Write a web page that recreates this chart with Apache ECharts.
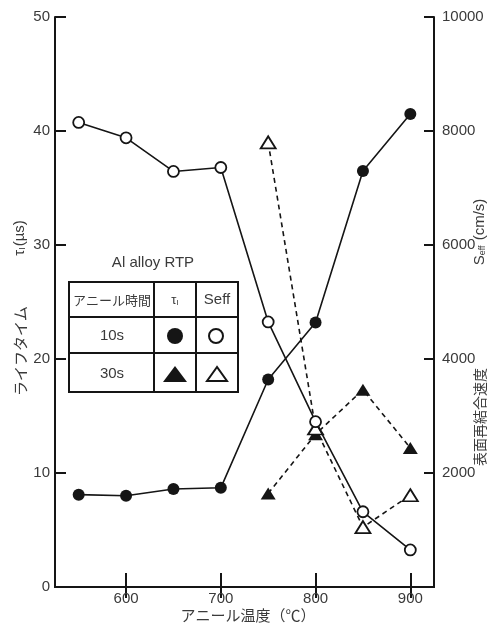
<!DOCTYPE html>
<html><head><meta charset="utf-8">
<script src="https://cdn.jsdelivr.net/npm/echarts@6/dist/echarts.min.js"></script>
<style>html,body{margin:0;padding:0;background:#fff}#c{width:501px;height:628px}</style>
</head><body><div id="c"></div>
<script>
// ---- data ----
const temps10 = [550, 600, 650, 700, 750, 800, 850, 900];
const tau10 = [8.1, 8.0, 8.6, 8.7, 18.2, 23.2, 36.5, 41.5];
const seff10 = [8150, 7880, 7290, 7360, 4650, 2900, 1320, 650];
const temps30 = [750, 800, 850, 900];
const tau30 = [8.2, 13.4, 17.3, 12.2];
const seff30 = [7800, 2780, 1050, 1610];
const xTicks = [600, 700, 800, 900];
const leftTicks = [0, 10, 20, 30, 40, 50];
const rightTicks = [0, 2000, 4000, 6000, 8000, 10000];

const INK = '#151515';
const TXT = '#3a3a3a';
const NUMFONT = '"Liberation Sans", Arial, sans-serif';
const JPFONT = '"Noto Sans CJK JP", sans-serif';

function pairs(xs, ys) { return xs.map((x, i) => [x, ys[i]]); }

const axisLineStyle = { color: INK, width: 2 };
const chart = echarts.init(document.getElementById('c'), null, { renderer: 'canvas' });

const option = {
  animation: false,
  backgroundColor: '#fff',
  grid: { left: 55, right: 67, top: 17, bottom: 41 },
  xAxis: [
    {
      type: 'value', min: 525, max: 925, position: 'bottom',
      axisLine: { lineStyle: axisLineStyle },
      axisTick: { inside: true, length: 14, customValues: xTicks, lineStyle: { color: INK, width: 2 } },
      axisLabel: { customValues: xTicks, fontSize: 15, color: TXT, fontFamily: NUMFONT, margin: 4 },
      splitLine: { show: false }
    },
    {
      type: 'value', min: 525, max: 925, position: 'top',
      axisLine: { lineStyle: axisLineStyle },
      axisTick: { inside: true, length: 11, customValues: xTicks, lineStyle: { color: INK, width: 2 } },
      axisLabel: { show: false },
      splitLine: { show: false }
    }
  ],
  yAxis: [
    {
      type: 'value', min: leftTicks[0], max: leftTicks[leftTicks.length - 1], interval: 10, position: 'left',
      axisLine: { show: true, lineStyle: axisLineStyle },
      axisTick: { show: true, inside: true, length: 11, lineStyle: { color: INK, width: 2 } },
      axisLabel: { fontSize: 15, color: TXT, fontFamily: NUMFONT, margin: 5 },
      splitLine: { show: false }
    },
    {
      type: 'value', min: rightTicks[0], max: rightTicks[rightTicks.length - 1], interval: 2000, position: 'right',
      axisLine: { show: true, lineStyle: axisLineStyle },
      axisTick: { show: true, inside: true, length: 10, lineStyle: { color: INK, width: 2 } },
      axisLabel: { fontSize: 15, color: TXT, fontFamily: NUMFONT, margin: 8, formatter: v => v === 0 ? '' : String(v) },
      splitLine: { show: false }
    }
  ],
  series: [
    {
      type: 'line', name: 'tau10', xAxisIndex: 0, yAxisIndex: 0, data: pairs(temps10, tau10),
      symbol: 'circle', symbolSize: 12, z: 5,
      lineStyle: { color: INK, width: 1.6 },
      itemStyle: { color: INK, borderColor: INK, borderWidth: 0 }
    },
    {
      type: 'line', name: 'seff10', xAxisIndex: 0, yAxisIndex: 1, data: pairs(temps10, seff10),
      symbol: 'circle', symbolSize: 11, z: 6,
      lineStyle: { color: INK, width: 1.6 },
      itemStyle: { color: '#fff', borderColor: INK, borderWidth: 1.8 }
    },
    {
      type: 'line', name: 'tau30', xAxisIndex: 0, yAxisIndex: 0, data: pairs(temps30, tau30),
      symbol: 'triangle', symbolSize: [15, 12], z: 4,
      lineStyle: { color: INK, width: 1.6, type: [5, 4] },
      itemStyle: { color: INK, borderWidth: 0 }
    },
    {
      type: 'line', name: 'seff30', xAxisIndex: 0, yAxisIndex: 1, data: pairs(temps30, seff30),
      symbol: 'triangle', symbolSize: [15, 12], z: 4,
      lineStyle: { color: INK, width: 1.6, type: [5, 4] },
      itemStyle: { color: '#fff', borderColor: INK, borderWidth: 1.8 }
    }
  ],
  graphic: [
    // axis names
    { type: 'text', x: 248, y: 615, z: 10, style: { text: 'アニール温度（℃）', font: '15px ' + JPFONT, fill: TXT, align: 'center', verticalAlign: 'middle' } },
    { type: 'text', x: 20, y: 351, rotation: Math.PI / 2, z: 10, style: { text: 'ライフタイム', font: '15px ' + JPFONT, fill: TXT, align: 'center', verticalAlign: 'middle' } },
    { type: 'text', x: 20, y: 238, rotation: Math.PI / 2, z: 10, style: { text: '{t|τ}{s|I}{t|(µs)}', align: 'center', verticalAlign: 'middle', fill: TXT,
        rich: { t: { fontSize: 15, fontFamily: NUMFONT, fill: TXT }, s: { fontSize: 9, fontFamily: NUMFONT, fill: TXT, verticalAlign: 'bottom', padding: [6, 1, 0, 0] } } } },
    { type: 'text', x: 480, y: 417, rotation: Math.PI / 2, z: 10, style: { text: '表面再結合速度', font: '14px ' + JPFONT, fill: TXT, align: 'center', verticalAlign: 'middle' } },
    { type: 'text', x: 480, y: 232, rotation: Math.PI / 2, z: 10, style: { text: '{t|S}{s|eff}{t| (cm/s)}', align: 'center', verticalAlign: 'middle', fill: TXT,
        rich: { t: { fontSize: 15, fontFamily: NUMFONT, fill: TXT }, s: { fontSize: 9, fontFamily: NUMFONT, fill: TXT, verticalAlign: 'bottom', padding: [6, 1, 0, 0] } } } },
    // legend table
    { type: 'text', x: 153, y: 263, z: 10, style: { text: 'Al alloy RTP', font: '15px ' + NUMFONT, fill: TXT, align: 'center', verticalAlign: 'middle' } },
    { type: 'rect', z: 9, shape: { x: 69, y: 282, width: 169, height: 110 }, style: { fill: '#fff', stroke: INK, lineWidth: 2 } },
    { type: 'line', z: 10, shape: { x1: 69, y1: 317, x2: 238, y2: 317 }, style: { stroke: INK, lineWidth: 2 } },
    { type: 'line', z: 10, shape: { x1: 69, y1: 353, x2: 238, y2: 353 }, style: { stroke: INK, lineWidth: 2 } },
    { type: 'line', z: 10, shape: { x1: 154, y1: 282, x2: 154, y2: 392 }, style: { stroke: INK, lineWidth: 2 } },
    { type: 'line', z: 10, shape: { x1: 196, y1: 282, x2: 196, y2: 392 }, style: { stroke: INK, lineWidth: 2 } },
    { type: 'text', x: 112, y: 300, z: 10, style: { text: 'アニール時間', font: '13px ' + JPFONT, fill: TXT, align: 'center', verticalAlign: 'middle' } },
    { type: 'text', x: 175, y: 300, z: 10, style: { text: '{t|τ}{s|I}', align: 'center', verticalAlign: 'middle', fill: TXT,
        rich: { t: { fontSize: 13, fontFamily: NUMFONT, fill: TXT }, s: { fontSize: 8, fontFamily: NUMFONT, fill: TXT, verticalAlign: 'bottom', padding: [5, 0, 0, 0] } } } },
    { type: 'text', x: 217, y: 300, z: 10, style: { text: 'Seff', font: '15px ' + NUMFONT, fill: TXT, align: 'center', verticalAlign: 'middle' } },
    { type: 'text', x: 112, y: 336, z: 10, style: { text: '10s', font: '15px ' + NUMFONT, fill: TXT, align: 'center', verticalAlign: 'middle' } },
    { type: 'text', x: 112, y: 374, z: 10, style: { text: '30s', font: '15px ' + NUMFONT, fill: TXT, align: 'center', verticalAlign: 'middle' } },
    { type: 'circle', z: 10, shape: { cx: 175, cy: 336, r: 8 }, style: { fill: INK } },
    { type: 'circle', z: 10, shape: { cx: 216, cy: 336, r: 7 }, style: { fill: '#fff', stroke: INK, lineWidth: 2 } },
    { type: 'polygon', z: 10, shape: { points: [[175, 366], [163, 382], [187, 382]] }, style: { fill: INK } },
    { type: 'polygon', z: 10, shape: { points: [[217, 367], [207, 381], [227, 381]] }, style: { fill: '#fff', stroke: INK, lineWidth: 2 } }
  ]
};
chart.setOption(option);
</script></body></html>
